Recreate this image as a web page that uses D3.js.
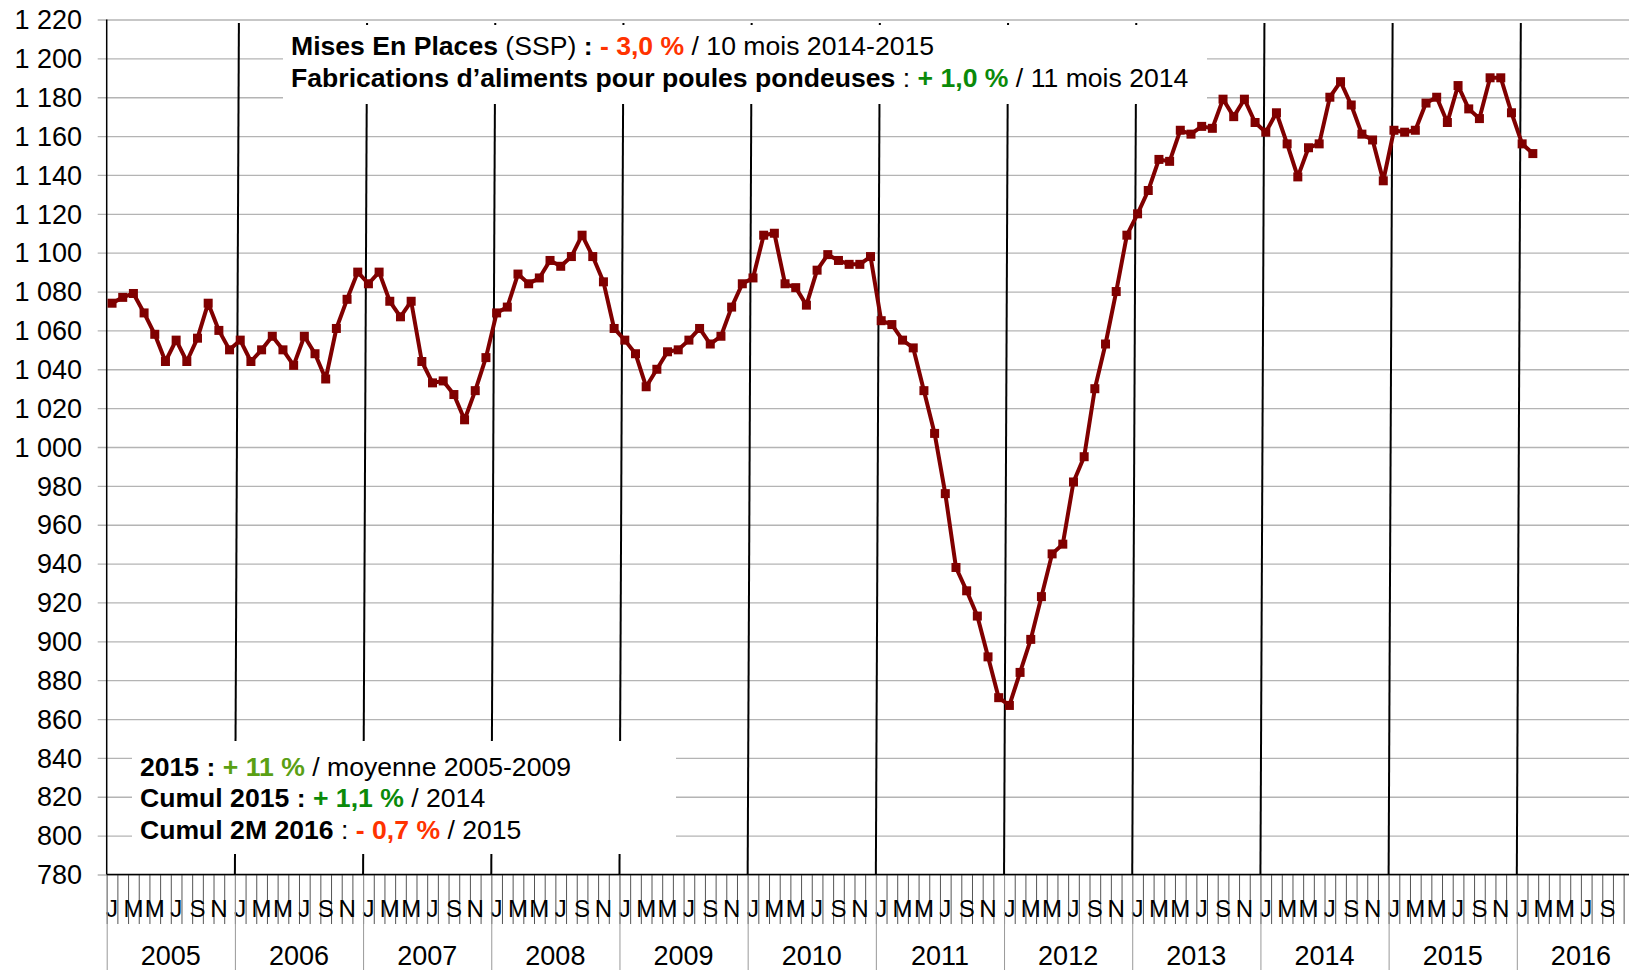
<!DOCTYPE html>
<html>
<head>
<meta charset="utf-8">
<script src="https://cdn.jsdelivr.net/npm/d3@7.9.0/dist/d3.min.js"></script>
<style>
  body { margin: 0; background: #fff; }
  svg { display: block; font-family: "Liberation Sans", Arial, sans-serif; }
</style>
</head>
<body>
<svg id="chart" width="1629" height="970"></svg>
<script>
// monthly values, Jan 2005 -> Feb 2016
const v2005 = [1074, 1077, 1079, 1069, 1058, 1044, 1055, 1044, 1056, 1074, 1060, 1050];
const v2006 = [1055, 1044, 1050, 1057, 1050, 1042, 1057, 1048, 1035, 1061, 1076, 1090];
const v2007 = [1084, 1090, 1075, 1067, 1075, 1044, 1033, 1034, 1027, 1014, 1029, 1046];
const v2008 = [1069, 1072, 1089, 1084, 1087, 1096, 1093, 1098, 1109, 1098, 1085, 1061];
const v2009 = [1055, 1048, 1031, 1040, 1049, 1050, 1055, 1061, 1053, 1057, 1072, 1084];
const v2010 = [1087, 1109, 1110, 1084, 1082, 1073, 1091, 1099, 1096, 1094, 1094, 1098];
const v2011 = [1065, 1063, 1055, 1051, 1029, 1007, 976, 938, 926, 913, 892, 871];
const v2012 = [867, 884, 901, 923, 945, 950, 982, 995, 1030, 1053, 1080, 1109];
const v2013 = [1120, 1132, 1148, 1147, 1163, 1161, 1165, 1164, 1179, 1170, 1179, 1167];
const v2014 = [1162, 1172, 1156, 1139, 1154, 1156, 1180, 1188, 1176, 1161, 1158, 1137];
const v2015 = [1163, 1162, 1163, 1177, 1180, 1167, 1186, 1174, 1169, 1190, 1190, 1172];
const v2016 = [1156, 1151];

const years = [2005, 2006, 2007, 2008, 2009, 2010, 2011, 2012, 2013, 2014, 2015, 2016];
const monthLetters = ["J", "F", "M", "A", "M", "J", "J", "A", "S", "O", "N", "D"];
const yTicks = d3.range(780, 1221, 20);

const values = [].concat(v2005, v2006, v2007, v2008, v2009, v2010, v2011, v2012, v2013, v2014, v2015, v2016);

// one category per month over the whole period
let cats = [];
years.forEach(yr => monthLetters.forEach((m, i) => cats.push({ year: yr, month: i, letter: m })));
const keys = cats.map(c => c.year + "-" + c.month);
const data = values.map((v, i) => ({ key: keys[i], value: v }));

const W = 1629, H = 970;
const plotL = 106.7, plotR = 1645, plotT = 19.5, plotB = 874.5;

const x = d3.scaleBand().domain(keys).range([plotL, plotR]).padding(0);
const y = d3.scaleLinear().domain([780, 1220]).range([plotB, plotT]);
const bw = x.bandwidth();

const svg = d3.select("#chart");
const frFormat = d3.formatLocale({ decimal: ",", thousands: " ", grouping: [3], currency: ["", ""] }).format(",");

// horizontal gridlines with short ticks left of the axis
svg.append("g").selectAll("line")
    .data(yTicks)
    .enter().append("line")
    .attr("x1", plotL - 9).attr("x2", W)
    .attr("y1", d => y(d) + 0.5).attr("y2", d => y(d) + 0.5)
    .attr("stroke", "#b4b4b4").attr("stroke-width", 1.3);

// y labels
svg.append("g").selectAll("text")
    .data(yTicks)
    .enter().append("text")
    .attr("x", 82).attr("y", d => y(d))
    .attr("dy", "0.36em")
    .attr("text-anchor", "end")
    .attr("font-size", 27)
    .attr("fill", "#000")
    .text(d => frFormat(d));

// slanted black year separators inside the plot
const boundaries = years.slice(1).map(yr => x(yr + "-0"));
svg.append("g").selectAll("line")
    .data(boundaries)
    .enter().append("line")
    .attr("x1", d => d + 4).attr("y1", 23)
    .attr("x2", d => d).attr("y2", plotB)
    .attr("stroke", "#000").attr("stroke-width", 2);

// white note boxes that hide grid and separators
svg.append("rect").attr("x", 283).attr("y", 25).attr("width", 924).attr("height", 79).attr("fill", "#fff");
svg.append("rect").attr("x", 132).attr("y", 741).attr("width", 544).attr("height", 113).attr("fill", "#fff");

function note(xPos, yPos, parts) {
    let t = svg.append("text").attr("x", xPos).attr("y", yPos).attr("font-size", 26.6);
    parts.forEach(p => {
        t.append("tspan")
            .attr("font-weight", p[1] ? "bold" : "normal")
            .attr("fill", p[2] || "#000")
            .style("white-space", "pre")
            .text(p[0]);
    });
}
const red = "#ff3300", green = "#0a8a0a", lightGreen = "#5aa014";
note(291, 55, [["Mises En Places", true], [" (SSP)", false], [" : ", true], ["- 3,0 %", true, red], [" / 10 mois 2014-2015", false]]);
note(291, 87, [["Fabrications d\u2019aliments pour poules pondeuses", true], [" : ", false], ["+ 1,0 %", true, green], [" / 11 mois 2014", false]]);
note(140, 776, [["2015 : ", true], ["+ 11 %", true, lightGreen], [" / moyenne 2005-2009", false]]);
note(140, 807, [["Cumul 2015 : ", true], ["+ 1,1 %", true, green], [" / 2014", false]]);
note(140, 839, [["Cumul 2M 2016", true], [" : ", false], ["- 0,7 %", true, red], [" / 2015", false]]);

// y axis line
svg.append("line").attr("x1", plotL).attr("x2", plotL).attr("y1", plotT).attr("y2", plotB)
    .attr("stroke", "#000").attr("stroke-width", 1.5);

// x axis: month ticks, letters, year separators and labels
const xa = svg.append("g");
xa.selectAll("line.mt")
    .data(keys)
    .enter().append("line")
    .attr("class", "mt")
    .attr("x1", d => x(d) + 0.5).attr("x2", d => x(d) + 0.5)
    .attr("y1", plotB).attr("y2", 924)
    .attr("stroke", "#555").attr("stroke-width", 1);
// every second month gets its letter, as long as it fits in the picture
xa.selectAll("text.ml")
    .data(cats.filter(c => c.month % 2 === 0 && x(c.year + "-" + c.month) + bw / 2 + 8 < W))
    .enter().append("text")
    .attr("class", "ml")
    .attr("x", d => x(d.year + "-" + d.month) + bw / 2)
    .attr("y", 917)
    .attr("text-anchor", "middle")
    .attr("font-size", 24)
    .text(d => d.letter);
xa.selectAll("line.ys")
    .data(years)
    .enter().append("line")
    .attr("class", "ys")
    .attr("x1", d => x(d + "-0") + 0.5).attr("x2", d => x(d + "-0") + 0.5)
    .attr("y1", plotB).attr("y2", H)
    .attr("stroke", "#999").attr("stroke-width", 1);
xa.selectAll("text.yl")
    .data(years)
    .enter().append("text")
    .attr("class", "yl")
    .attr("x", d => x(d + "-0") + bw * 6)
    .attr("y", 965)
    .attr("text-anchor", "middle")
    .attr("font-size", 27)
    .text(d => d);
xa.append("line").attr("x1", plotL).attr("x2", W).attr("y1", plotB).attr("y2", plotB)
    .attr("stroke", "#000").attr("stroke-width", 1.5);

// series
const line = d3.line().x(d => x(d.key) + bw / 2).y(d => y(d.value));
svg.append("path").datum(data)
    .attr("d", line)
    .attr("fill", "none")
    .attr("stroke", "#800000")
    .attr("stroke-width", 4)
    .attr("stroke-linejoin", "round");
svg.append("g").selectAll("rect")
    .data(data)
    .enter().append("rect")
    .attr("x", d => x(d.key) + bw / 2 - 4.5)
    .attr("y", d => y(d.value) - 4.5)
    .attr("width", 9).attr("height", 9)
    .attr("fill", "#800000");
</script>
</body>
</html>
